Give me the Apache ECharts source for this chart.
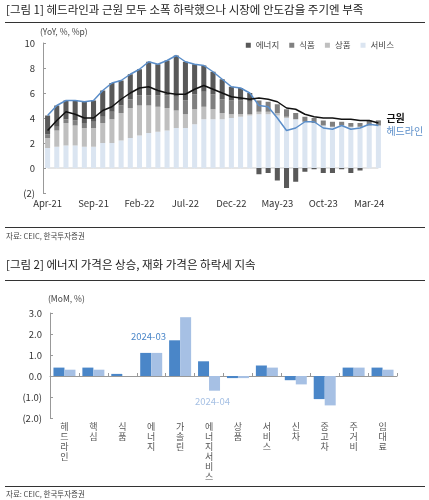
<!DOCTYPE html><html><head><meta charset="utf-8">
<script src="https://cdn.jsdelivr.net/npm/echarts@6/dist/echarts.min.js"></script>
<style>html,body{margin:0;padding:0;background:#fff}#c{width:429px;height:500px}</style></head><body><div id="c"></div>
<script>
const months=["Apr-21","May-21","Jun-21","Jul-21","Aug-21","Sep-21","Oct-21","Nov-21","Dec-21","Jan-22","Feb-22","Mar-22","Apr-22","May-22","Jun-22","Jul-22","Aug-22","Sep-22","Oct-22","Nov-22","Dec-22","Jan-23","Feb-23","Mar-23","Apr-23","May-23","Jun-23","Jul-23","Aug-23","Sep-23","Oct-23","Nov-23","Dec-23","Jan-24","Feb-24","Mar-24","Apr-24"];
const headline=[4.2,5.0,5.4,5.4,5.3,5.4,6.2,6.8,7.0,7.5,7.9,8.5,8.3,8.6,9.0,8.5,8.3,8.2,7.7,7.1,6.5,6.4,6.0,5.0,4.9,4.0,3.0,3.2,3.7,3.7,3.2,3.1,3.4,3.1,3.2,3.5,3.4];
const core=[3.0,3.8,4.5,4.3,4.0,4.0,4.6,4.9,5.5,6.0,6.4,6.5,6.2,6.0,5.9,5.9,6.3,6.6,6.3,6.0,5.7,5.6,5.5,5.6,5.5,5.3,4.8,4.7,4.3,4.1,4.0,4.0,3.9,3.9,3.8,3.8,3.6];
const services=[1.6,1.7,1.8,1.8,1.7,1.7,2.0,2.0,2.2,2.4,2.6,2.8,2.9,3.0,3.2,3.2,3.5,3.9,3.9,3.9,4.0,4.1,4.2,4.3,4.3,4.2,4.0,3.9,3.7,3.6,3.4,3.3,3.4,3.3,3.3,3.4,3.4];
const goods=[0.8,1.3,1.8,1.6,1.5,1.5,1.6,1.9,2.2,2.4,2.4,2.2,2.0,1.8,1.4,1.1,1.2,1.0,0.8,0.5,0.3,0.2,0.1,0.2,0.2,0.2,0.1,0.0,0.0,0.0,0.0,0.0,0.0,0.0,0.0,0.0,0.0];
const food=[0.3,0.3,0.3,0.4,0.4,0.5,0.5,0.6,0.6,0.7,0.8,0.8,0.9,1.0,1.1,1.1,1.2,1.2,1.2,1.1,1.1,1.1,1.0,0.9,0.8,0.7,0.6,0.5,0.4,0.4,0.4,0.4,0.3,0.3,0.3,0.3,0.3];
const energy=[1.5,1.7,1.5,1.6,1.7,1.7,2.1,2.3,2.0,2.0,2.1,2.7,2.5,2.8,3.3,3.1,2.4,2.1,1.8,1.6,1.1,1.0,0.7,-0.5,-0.4,-1.0,-1.6,-1.1,-0.3,-0.1,-0.4,-0.4,-0.1,-0.4,-0.2,0.1,0.1];
const yTicks1=[-2,0,2,4,6,8,10];
const cats2=["헤드라인","핵심","식품","에너지","가솔린","에너지서비스","상품","서비스","신차","중고차","주거비","임대료"];
const mar24=[0.4,0.4,0.1,1.1,1.7,0.7,-0.1,0.5,-0.2,-1.1,0.4,0.4];
const apr24=[0.3,0.3,0.0,1.1,2.8,-0.7,-0.1,0.4,-0.4,-1.4,0.4,0.3];

const F="'Noto Sans CJK KR','Noto Sans',sans-serif";
const neg1=v=>v<0?"("+Math.abs(v)+")":String(v);
const neg2=v=>v<0?"("+Math.abs(v).toFixed(1)+")":v.toFixed(1);
const ch=echarts.init(document.getElementById('c'));
const axTxt={color:'#333',fontSize:9.5,fontFamily:F};
const bar=(n,d,c)=>({name:n,type:'bar',stack:'s',data:d,xAxisIndex:0,yAxisIndex:0,barWidth:'55%',itemStyle:{color:c},z:1});
ch.setOption({
 animation:false,
 textStyle:{fontFamily:F},
 legend:{top:36,right:30,itemWidth:5,itemHeight:5,itemGap:10,icon:'rect',textStyle:{fontSize:8.5,color:'#444',fontFamily:F},data:['에너지','식품','상품','서비스']},
 grid:[{left:43,right:46,top:43,height:150},{left:50,right:32,top:313,height:105}],
 xAxis:[{type:'category',gridIndex:0,data:months,boundaryGap:true,position:'bottom',offset:0,
   axisLine:{show:false},axisTick:{show:false},
   axisLabel:Object.assign({interval:4,margin:6},axTxt)},
  {type:'category',gridIndex:1,data:cats2,axisLine:{onZero:true,lineStyle:{color:'#999'}},axisTick:{show:true,interval:0,alignWithLabel:false,inside:true,length:3,lineStyle:{color:'#999'}},
   axisLabel:{show:false}},
  {type:'category',gridIndex:1,data:cats2,position:'bottom',axisLine:{show:false},axisTick:{show:false},
   axisLabel:Object.assign({interval:0,margin:4,lineHeight:10,formatter:v=>v.split('').join('\n'),verticalAlign:'top'},axTxt,{color:'#555',fontSize:9})}],
 yAxis:[{type:'value',gridIndex:0,min:-2,max:10,interval:2,splitLine:{show:false},axisLine:{show:true,lineStyle:{color:'#999'}},axisTick:{show:true,inside:true,length:3},axisLabel:Object.assign({formatter:neg1},axTxt)},
  {type:'value',gridIndex:1,min:-2,max:3,interval:1,splitLine:{show:false},axisLine:{show:true,lineStyle:{color:'#999'}},axisTick:{show:true,inside:true,length:3},axisLabel:Object.assign({formatter:neg2},axTxt)}],
 series:[
  bar('서비스',services,'#dbe5f1'),bar('상품',goods,'#bfbfbf'),bar('식품',food,'#808080'),bar('에너지',energy,'#595959'),
  {type:'line',name:'zero',data:months.map(()=>0),symbol:'none',lineStyle:{color:'#ccc',width:1},silent:true,z:0,tooltip:{show:false}},
  {name:'헤드라인',type:'line',data:headline,symbol:'none',lineStyle:{color:'#5b8ec9',width:1.5},z:3,
   endLabel:{show:true,formatter:'헤드라인',color:'#5b8ec9',fontSize:10,fontFamily:F,offset:[0,6]}},
  {name:'근원',type:'line',data:core,symbol:'none',lineStyle:{color:'#111',width:1.5},z:4,
   endLabel:{show:true,formatter:'근원',color:'#111',fontSize:10,fontWeight:'bold',fontFamily:F,offset:[0,-5]}},
  {name:'2024-03',type:'bar',xAxisIndex:1,yAxisIndex:1,data:mar24,barWidth:11,barGap:'0%',itemStyle:{color:'#4a86c8'}},
  {name:'2024-04',type:'bar',xAxisIndex:1,yAxisIndex:1,data:apr24,barWidth:11,barGap:'0%',itemStyle:{color:'#a6c0e4'}}
 ],
 graphic:[
  {type:'text',left:6,top:4,style:{text:'[그림 1] 헤드라인과 근원 모두 소폭 하락했으나 시장에 안도감을 주기엔 부족',font:'11.5px '+F,fill:'#222'}},
  {type:'rect',shape:{x:5,y:22,width:420,height:1},style:{fill:'#333'}},
  {type:'text',left:40,top:28,style:{text:'(YoY, %, %p)',font:'8.5px '+F,fill:'#444'}},
  {type:'rect',shape:{x:5,y:227,width:420,height:1},style:{fill:'#333'}},
  {type:'text',left:6,top:232,style:{text:'자료: CEIC, 한국투자증권',font:'7.5px '+F,fill:'#444'}},
  {type:'text',left:6,top:259,style:{text:'[그림 2] 에너지 가격은 상승, 재화 가격은 하락세 지속',font:'11.5px '+F,fill:'#222'}},
  {type:'rect',shape:{x:5,y:280,width:420,height:1},style:{fill:'#333'}},
  {type:'text',left:48,top:295,style:{text:'(MoM, %)',font:'8.5px '+F,fill:'#444'}},
  {type:'text',left:131,top:332,style:{text:'2024-03',font:'9.5px '+F,fill:'#4a86c8'}},
  {type:'text',left:195,top:397,style:{text:'2024-04',font:'9.5px '+F,fill:'#a6c0e4'}},
  {type:'rect',shape:{x:5,y:486,width:420,height:1},style:{fill:'#333'}},
  {type:'text',left:6,top:490,style:{text:'자료: CEIC, 한국투자증권',font:'7.5px '+F,fill:'#444'}}
 ]
});
</script></body></html>
